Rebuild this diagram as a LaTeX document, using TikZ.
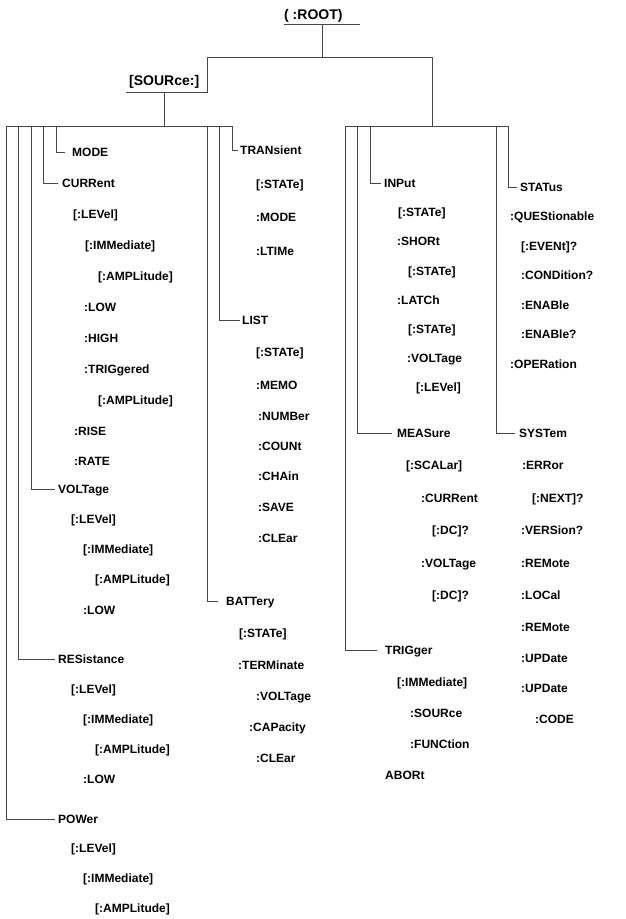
\documentclass[tikz,border=0pt]{standalone}
\usepackage{fontspec}
\setmainfont{Liberation Sans}
\begin{document}
\begin{tikzpicture}[x=1pt,y=-1pt,
  lbl/.style={anchor=west,inner sep=0pt,text height=8.6pt,text depth=0pt,font=\fontsize{12}{14}\selectfont\bfseries},
  toplbl/.style={anchor=west,inner sep=0pt,text height=10pt,text depth=0pt,font=\fontsize{14}{16}\selectfont\bfseries},
  ln/.style={draw=black!72,line width=0.75pt}]
\useasboundingbox (0,0) rectangle (626,919);
% ---------- top ----------
\node[toplbl] (root) at (284,14) {( :ROOT)};
\coordinate (rootul) at (284,24);
\coordinate (rootur) at (360,24);
\coordinate (rootstem) at (322,24);
\coordinate (jl) at (207,57);
\coordinate (jr) at (432,57);
\draw[ln] (rootul) -- (rootur);
\draw[ln] (rootstem) -- (rootstem |- jl);
\draw[ln] (jl) -- (jr);
\node[toplbl] (src) at (129,80) {[SOURce:]};
\coordinate (srcul) at (126,92);
\coordinate (srcur) at (207,92);
\coordinate (srcstem) at (164,92);
\draw[ln] (srcul) -- (srcur) -- (jl);
\coordinate (busL1) at (6,126);
\coordinate (busL2) at (232,126);
\coordinate (busR1) at (345,126);
\coordinate (busR2) at (508,126);
\draw[ln] (srcstem) -- (srcstem |- busL1);
\draw[ln] (busL1) -- (busL2);
\draw[ln] (jr) -- (jr |- busR1);
\draw[ln] (busR1) -- (busR2);
\foreach \n/\x in {t6/6,t18/18,t31/31,t43/43,t56/56,t207/207,t219/219,t232/232,t345/345,t357/357,t370/370,t496/496,t508/508}
  \coordinate (\n) at (\x,126);
% ---------- left column ----------
\node[lbl] (mode)  at (72,152) {MODE};
\node[lbl] (cur)   at (62,183) {CURRent};
\node[lbl] (clev)  at (73,214) {[:LEVel]};
\node[lbl] (cimm)  at (85,245) {[:IMMediate]};
\node[lbl] (campa) at (98,276) {[:AMPLitude]};
\node[lbl] (clow)  at (84,307) {:LOW};
\node[lbl] (chigh) at (84,338) {:HIGH};
\node[lbl] (ctrig) at (84,369) {:TRIGgered};
\node[lbl] (campb) at (98,400) {[:AMPLitude]};
\node[lbl] (crise) at (74,431) {:RISE};
\node[lbl] (crate) at (74,461) {:RATE};
\node[lbl] (volt)  at (58,489) {VOLTage};
\node[lbl] (vlev)  at (71,519) {[:LEVel]};
\node[lbl] (vimm)  at (83,549) {[:IMMediate]};
\node[lbl] (vamp)  at (95,579) {[:AMPLitude]};
\node[lbl] (vlow)  at (83,610) {:LOW};
\node[lbl] (res)   at (58,659) {RESistance};
\node[lbl] (rlev)  at (71,689) {[:LEVel]};
\node[lbl] (rimm)  at (83,719) {[:IMMediate]};
\node[lbl] (ramp)  at (95,749) {[:AMPLitude]};
\node[lbl] (rlow)  at (83,779) {:LOW};
\node[lbl] (pow)   at (58,819) {POWer};
\node[lbl] (plev)  at (71,848) {[:LEVel]};
\node[lbl] (pimm)  at (83,878) {[:IMMediate]};
\node[lbl] (pamp)  at (95,908) {[:AMPLitude]};
\draw[ln] (t56) |- ([xshift=-7pt]mode.west);
\draw[ln] (t43) |- ([xshift=-4pt]cur.west);
\draw[ln] (t31) |- ([xshift=-3pt]volt.west);
\draw[ln] (t18) |- ([xshift=-3pt]res.west);
\draw[ln] (t6)  |- ([xshift=-3pt]pow.west);
% ---------- middle column ----------
\node[lbl] (tran)   at (240,150) {TRANsient};
\node[lbl] (tsta)   at (256,184) {[:STATe]};
\node[lbl] (tmode)  at (256,217) {:MODE};
\node[lbl] (tltim)  at (256,251) {:LTIMe};
\node[lbl] (list)   at (242,320) {LIST};
\node[lbl] (lsta)   at (256,352) {[:STATe]};
\node[lbl] (lmemo)  at (256,385) {:MEMO};
\node[lbl] (lnum)   at (258,416) {:NUMBer};
\node[lbl] (lcount) at (258,446) {:COUNt};
\node[lbl] (lchain) at (258,476) {:CHAin};
\node[lbl] (lsave)  at (258,507) {:SAVE};
\node[lbl] (lclear) at (258,538) {:CLEar};
\node[lbl] (batt)   at (226,601) {BATTery};
\node[lbl] (bsta)   at (239,633) {[:STATe]};
\node[lbl] (bterm)  at (238,665) {:TERMinate};
\node[lbl] (bvolt)  at (256,696) {:VOLTage};
\node[lbl] (bcap)   at (249,727) {:CAPacity};
\node[lbl] (bclear) at (256,758) {:CLEar};
\draw[ln] (t232) |- ([xshift=-2pt]tran.west);
\draw[ln] (t219) |- ([xshift=-2pt]list.west);
\draw[ln] (t207) |- ([xshift=-8pt]batt.west);
% ---------- right column ----------
\node[lbl] (inp)    at (384,183) {INPut};
\node[lbl] (ista)   at (398,212) {[:STATe]};
\node[lbl] (ishort) at (397,241) {:SHORt};
\node[lbl] (ista2)  at (408,271) {[:STATe]};
\node[lbl] (ilatch) at (397,300) {:LATCh};
\node[lbl] (ista3)  at (408,329) {[:STATe]};
\node[lbl] (ivolt)  at (407,358) {:VOLTage};
\node[lbl] (ilev)   at (416,387) {[:LEVel]};
\node[lbl] (meas)   at (397,433) {MEASure};
\node[lbl] (mscal)  at (406,465) {[:SCALar]};
\node[lbl] (mcur)   at (421,498) {:CURRent};
\node[lbl] (mdc)    at (432,530) {[:DC]?};
\node[lbl] (mvolt)  at (421,563) {:VOLTage};
\node[lbl] (mdc2)   at (432,595) {[:DC]?};
\node[lbl] (trig)   at (385,650) {TRIGger};
\node[lbl] (timm)   at (397,682) {[:IMMediate]};
\node[lbl] (tsour)  at (410,713) {:SOURce};
\node[lbl] (tfunc)  at (410,744) {:FUNCtion};
\node[lbl] (abort)  at (385,775) {ABORt};
\draw[ln] (t370) |- ([xshift=-3pt]inp.west);
\draw[ln] (t357) |- ([xshift=-5pt]meas.west);
\draw[ln] (t345) |- ([xshift=-8pt]trig.west);
% ---------- far right column ----------
\node[lbl] (stat)   at (520,187) {STATus};
\node[lbl] (sques)  at (510,216) {:QUEStionable};
\node[lbl] (sevent) at (521,246) {[:EVENt]?};
\node[lbl] (scond)  at (521,275) {:CONDition?};
\node[lbl] (sena)   at (521,305) {:ENABle};
\node[lbl] (sena2)  at (521,334) {:ENABle?};
\node[lbl] (soper)  at (510,364) {:OPERation};
\node[lbl] (syst)   at (519,433) {SYSTem};
\node[lbl] (yerr)   at (522,465) {:ERRor};
\node[lbl] (ynext)  at (532,498) {[:NEXT]?};
\node[lbl] (yvers)  at (521,530) {:VERSion?};
\node[lbl] (yrem)   at (521,563) {:REMote};
\node[lbl] (yloc)   at (521,595) {:LOCal};
\node[lbl] (yrem2)  at (521,627) {:REMote};
\node[lbl] (yupd)   at (521,658) {:UPDate};
\node[lbl] (yupd2)  at (521,688) {:UPDate};
\node[lbl] (ycode)  at (535,719) {:CODE};
\draw[ln] (t508) |- ([xshift=-3pt]stat.west);
\draw[ln] (t496) |- ([xshift=-4pt]syst.west);
\end{tikzpicture}
\end{document}
